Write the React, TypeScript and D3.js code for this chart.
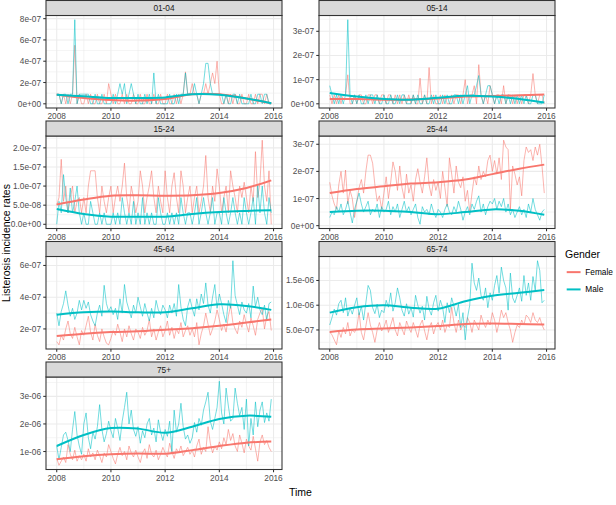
import React from "react";
import * as d3 from "d3";

// All rates are stored in units of 1e-7 (cases per person per month)
const UNIT = 1e-7;
const FIRST_YEAR = 2008;
const LAST_X = 2015 + 11 / 12;

const AGE_GROUPS = ["01-04", "05-14", "15-24", "25-44", "45-64", "65-74", "75+"];
const GENDERS = ["Female", "Male"];
const COLORS = ["#F8766D", "#00BFC4"];
const X_BREAKS = [2008, 2010, 2012, 2014, 2016];
const X_MINOR = [2007, 2009, 2011, 2013, 2015, 2017];
const SMOOTH_X = [2008, 2009, 2010, 2011, 2012, 2013, 2014, 2015, LAST_X];

// ---- 01-04 ----
const female_01_04 = [
  0.9, 0.9, 0, 0.9, 0, 0.9, 0, 0.9, 5.5, 0, 0.9, 0,
  0, 0.9, 0, 0.9, 0, 0, 0.9, 0, 0, 0.9, 0, 1.9,
  0.9, 0, 0.9, 0, 0, 0.9, 0, 0.9, 0, 0, 0.9, 0,
  0, 0.9, 0, 0, 0.9, 0, 0, 0.9, 0, 0, 0.9, 0,
  0, 0.9, 0, 0, 0.9, 0, 0.9, 0, 0.9, 3.0, 0.9, 0.9,
  1.9, 0.9, 0.9, 0, 0.9, 0.9, 1.9, 0.9, 1.9, 2.9, 1.9, 4.0,
  0.9, 0, 0, 0.9, 0, 0.9, 0, 0.9, 0, 0, 0.9, 0,
  0, 0.9, 0, 0, 0.9, 0, 0.9, 0.9, 0, 0.9, 0, 0,
];
const male_01_04 = [
  0.9, 0.9, 0, 0.9, 0.9, 0, 0.9, 0.9, 7.9, 0, 0.9, 0.9,
  0.9, 0.9, 0.9, 0, 0, 0.9, 0, 0, 0.9, 0, 0, 0,
  0, 0.9, 0, 0.9, 1.9, 0.9, 1.9, 0, 0.9, 1.9, 0.9, 0,
  0.9, 0, 0, 0.9, 0, 0.9, 0, 2.9, 0, 0.9, 0, 0,
  0, 0, 0.9, 0, 0, 0.9, 0, 0.9, 0.9, 2.9, 0.9, 0.9,
  0.9, 1.9, 0.9, 0, 0.9, 1.9, 3.8, 3.8, 1.9, 0.9, 0.9, 0.9,
  0.9, 0.9, 0, 0.9, 0, 0, 0.9, 0.9, 0, 0.9, 0, 0,
  0, 0, 0.9, 0, 0, 0.9, 0.9, 0, 0.9, 0.9, 0, 0,
];
const femaleSmooth_01_04 = [0.85, 0.55, 0.35, 0.3, 0.45, 0.9, 0.9, 0.5, 0.05];
const maleSmooth_01_04 = [0.85, 0.7, 0.55, 0.55, 0.6, 0.9, 0.85, 0.5, 0.05];
const yBreaks_01_04 = [0, 2, 4, 6, 8];
const yLabels_01_04 = ["0e+00", "2e-07", "4e-07", "6e-07", "8e-07"];

// ---- 05-14 ----
const female_05_14 = [
  0.37, 0, 0.37, 0, 0.37, 0, 0.37, 0.37, 1.2, 0, 0, 0.37,
  0, 0.37, 0.37, 0, 0, 0.37, 0.37, 0, 0.37, 0.37, 0, 0.37,
  0.37, 0, 0.37, 0.37, 0, 0.37, 0, 0.37, 0, 0.37, 0, 0.37,
  0, 0.37, 0, 0, 1.06, 0, 0.37, 0, 1.5, 0, 0.37, 0,
  0, 0.37, 0, 0.37, 0, 0, 0.37, 0, 0.37, 0.37, 0, 0.37,
  1.0, 0, 0.37, 0.37, 0.75, 0, 1.62, 0.37, 0, 0.37, 0, 0.75,
  0.37, 0, 0.37, 0.37, 0, 0.75, 0, 0.37, 0.37, 0, 0.37, 0,
  0.37, 0, 0.37, 0.37, 0, 0.37, 1.25, 0.37, 0, 0.37, 0.37, 0,
];
const male_05_14 = [
  0.75, 0.37, 0, 0.37, 0, 0.37, 0, 0.37, 3.48, 0.37, 0, 0.37,
  0, 0.37, 0, 0, 0.37, 0, 0.37, 0.37, 0, 0.37, 0, 0,
  0.37, 0, 0, 0.37, 0, 0, 0.37, 0, 0.37, 0.37, 0, 0,
  0, 0.37, 0, 0.37, 0, 0, 0.37, 0, 0, 0.37, 0, 0.37,
  0, 0, 0.37, 0, 0.37, 0, 0, 0.37, 0.37, 0, 0.37, 0,
  0.37, 0.75, 0, 0.37, 0.37, 0.75, 1.17, 0.37, 0, 0.37, 0.75, 0.75,
  0.37, 0, 0.37, 0, 0.37, 0.37, 0, 0.37, 0, 0.37, 0, 0.37,
  0, 0.37, 0, 0.37, 0, 0, 0.37, 0.37, 0, 0, 0, 0.37,
];
const femaleSmooth_05_14 = [0.2, 0.2, 0.17, 0.18, 0.22, 0.3, 0.32, 0.35, 0.38];
const maleSmooth_05_14 = [0.45, 0.3, 0.2, 0.17, 0.25, 0.33, 0.3, 0.2, 0.05];
const yBreaks_05_14 = [0, 1, 2, 3];
const yLabels_05_14 = ["0e+00", "1e-07", "2e-07", "3e-07"];

// ---- 15-24 ----
const female_15_24 = [
  0.5, 0.7, 1.7, 0.6, 1.0, 0.3, 0.7, 1.0, 0.3, 0.6, 0.7, 0.3,
  0.7, 0.3, 1.0, 1.4, 1.4, 1.4, 0.7, 0.3, 1.0, 0.6, 0.3, 0.7,
  1.0, 0.3, 0.7, 1.0, 0.6, 1.0, 1.6, 0.7, 0.3, 1.0, 0.7, 0.3,
  0.6, 1.4, 1.0, 0.3, 0.7, 1.0, 1.4, 0.7, 0.3, 1.0, 0.6, 0.3,
  1.4, 0.7, 0.3, 1.0, 1.35, 0.7, 0.3, 1.4, 1.0, 0.3, 0.7, 1.0,
  0.3, 0.7, 1.0, 0.3, 0.6, 1.0, 1.8, 0.7, 0.3, 1.0, 0.6, 1.45,
  1.0, 0.3, 0.7, 1.0, 0.3, 1.4, 1.0, 0.7, 0.3, 1.0, 0.7, 1.1,
  0.7, 0.3, 1.0, 0.6, 1.9, 0.7, 1.1, 2.2, 1.0, 0.6, 1.4, 0.0,
];
const male_15_24 = [
  0, 0.6, 0.3, 1.3, 0.7, 0.3, 0.95, 0.3, 0.6, 1.0, 0.3, 0,
  0.3, 0, 0, 0.6, 0.3, 0, 0, 0.3, 0, 0.3, 0, 0,
  0, 0.3, 0, 0.3, 0, 0.7, 0.3, 0, 0.3, 0, 0.6, 0,
  0.3, 0, 0.7, 0, 0.3, 0, 0.3, 0, 0, 0.7, 0.3, 0,
  0, 0.3, 0, 0.3, 0, 0.3, 0, 0.7, 0.3, 0, 0.3, 0.3,
  0, 0.3, 0.7, 0, 0.3, 0.7, 0.3, 0, 0.3, 0.7, 0, 0.3,
  0.3, 0, 0.7, 0.3, 0, 0.3, 0.7, 0.3, 0, 0.3, 0, 0.7,
  0.3, 0, 0.3, 0.7, 0, 1.05, 0.3, 1.0, 0.3, 0, 0.7, 0.3,
];
const femaleSmooth_15_24 = [0.52, 0.65, 0.75, 0.76, 0.75, 0.76, 0.82, 0.95, 1.15];
const maleSmooth_15_24 = [0.4, 0.27, 0.2, 0.2, 0.2, 0.27, 0.32, 0.35, 0.37];
const yBreaks_15_24 = [0, 0.5, 1, 1.5, 2];
const yLabels_15_24 = ["0.0e+00", "5.0e-08", "1.0e-07", "1.5e-07", "2.0e-07"];

// ---- 25-44 ----
const female_25_44 = [
  1.6, 1.1, 0.8, 0.6, 1.5, 2.0, 1.2, 2.05, 0.8, 1.3, 1.0, 0.3,
  0.9, 1.4, 1.7, 1.2, 2.0, 2.6, 2.6, 2.3, 1.5, 0.9, 1.1, 0.6,
  1.2, 1.8, 1.0, 1.6, 2.35, 2.0, 1.3, 2.2, 1.4, 1.0, 1.9, 1.2,
  1.5, 0.9, 1.7, 2.1, 1.6, 1.2, 1.8, 2.5, 1.5, 1.1, 1.7, 1.3,
  1.6, 1.0, 2.0, 1.4, 0.7, 2.5, 1.9, 1.2, 2.2, 1.6, 1.4, 1.8,
  0.9, 1.3, 0.5, 1.2, 1.8, 1.5, 2.2, 1.7, 2.0, 1.8, 2.4, 2.6,
  2.0, 2.4, 1.9, 2.5, 1.7, 3.15, 2.9, 2.8, 0.6, 2.2, 1.9, 1.5,
  1.8, 1.1, 2.4, 2.9, 2.7, 2.8, 2.4, 2.9, 2.6, 3.0, 2.2, 1.2,
];
const male_25_44 = [
  0.3, 0.5, 0.4, 0.7, 0.5, 0.8, 0.4, 0.6, 0.9, 0.5, 0.1, 0.6,
  0.9, 1.2, 0.8, 0.5, 0.7, 0.9, 0.4, 0.6, 0.5, 0.8, 0.3, 0.7,
  0.5, 0.6, 0.9, 0.4, 0.7, 0.5, 0.8, 0.3, 0.6, 0.9, 0.5, 0.7,
  0.4, 0.6, 0.8, 0.3, 0.05, 0.7, 0.5, 0.6, 0.4, 0.8, 0.5, 0.3,
  0.6, 0.5, 0.3, 0.6, 0.8, 0.5, 0.4, 0.7, 0.5, 0.9, 0.6, 0.2,
  0.5, 0.7, 0.4, 0.8, 0.6, 0.9, 1.1, 0.5, 0.8, 0.4, 0.7, 0.9,
  0.8, 1.0, 0.6, 0.9, 0.7, 1.0, 0.5, 0.8, 0.4, 0.6, 0.3, 0.5,
  0.7, 0.4, 0.6, 0.3, 0.8, 0.5, 1.0, 0.6, 0.4, 0.2, 0.5, 0.6,
];
const femaleSmooth_25_44 = [1.2, 1.35, 1.45, 1.55, 1.6, 1.7, 1.9, 2.1, 2.25];
const maleSmooth_25_44 = [0.5, 0.55, 0.55, 0.5, 0.42, 0.5, 0.6, 0.55, 0.4];
const yBreaks_25_44 = [0, 1, 2, 3];
const yLabels_25_44 = ["0e+00", "1e-07", "2e-07", "3e-07"];

// ---- 45-64 ----
const female_45_64 = [
  1.2, 1.0, 1.6, 1.3, 2.0, 2.5, 1.7, 1.4, 2.1, 1.5, 1.0, 1.9,
  1.6, 2.2, 2.8, 1.8, 1.3, 2.3, 1.6, 1.2, 2.0, 1.5, 1.1, 1.0,
  1.4, 1.9, 1.6, 2.3, 1.8, 1.2, 2.0, 1.5, 2.2, 1.7, 1.3, 2.0,
  1.8, 1.4, 2.1, 1.6, 1.9, 2.6, 1.5, 2.0, 1.3, 1.8, 2.2, 1.5,
  1.9, 2.5, 1.6, 2.1, 1.4, 2.0, 1.7, 2.4, 1.5, 1.9, 2.2, 1.6,
  2.0, 1.5, 2.4, 1.0, 1.7, 2.2, 3.0, 2.3, 1.6, 2.0, 2.5, 3.2,
  2.6, 1.9, 2.3, 1.8, 2.8, 3.5, 2.4, 2.0, 1.7, 2.5, 2.1, 2.9,
  2.3, 1.8, 2.7, 2.2, 1.6, 2.6, 3.0, 3.3, 2.0, 2.8, 3.1, 1.9,
];
const male_45_64 = [
  3.0, 2.2, 3.1, 3.6, 4.4, 3.5, 2.8, 3.3, 2.6, 3.0, 3.8, 3.2,
  3.8, 3.3, 3.7, 2.9, 2.5, 2.2, 3.0, 3.5, 2.8, 4.75, 3.6, 3.1,
  3.4, 2.9, 3.3, 2.6, 3.9, 3.0, 4.8, 3.7, 3.2, 2.7, 3.5, 3.0,
  4.0, 3.4, 2.8, 3.6, 3.0, 2.5, 3.3, 2.7, 3.8, 3.2, 2.9, 3.5,
  3.2, 2.7, 3.5, 3.0, 3.6, 2.8, 4.8, 3.4, 2.6, 2.2, 3.4, 3.9,
  3.3, 2.8, 3.9, 3.2, 4.2, 3.6, 4.9, 3.5, 3.0, 4.0, 4.8, 3.3,
  4.2, 3.6, 2.9, 2.4, 3.8, 3.3, 6.3, 4.1, 3.5, 2.9, 3.7, 3.2,
  3.0, 3.6, 2.7, 4.7, 3.4, 4.0, 3.2, 2.9, 3.5, 2.5, 3.6, 3.7,
];
const femaleSmooth_45_64 = [1.55, 1.7, 1.8, 1.85, 1.95, 2.05, 2.2, 2.4, 2.6];
const maleSmooth_45_64 = [2.9, 3.05, 3.1, 3.05, 3.05, 3.3, 3.55, 3.45, 3.2];
const yBreaks_45_64 = [2, 4, 6];
const yLabels_45_64 = ["2e-07", "4e-07", "6e-07"];

// ---- 65-74 ----
const female_65_74 = [
  4.6, 4.0, 3.0, 2.0, 4.8, 3.5, 5.5, 4.2, 6.5, 3.8, 5.0, 4.5,
  5.5, 8.5, 4.5, 3.0, 5.8, 8.5, 6.0, 4.5, 2.5, 5.0, 6.5, 4.8,
  5.5, 7.0, 4.5, 6.0, 7.5, 5.0, 3.8, 6.5, 5.2, 4.0, 6.8, 5.5,
  4.5, 6.5, 5.0, 3.5, 6.0, 7.0, 4.8, 3.0, 5.5, 6.5, 4.2, 5.8,
  6.5, 5.0, 7.0, 4.5, 6.0, 5.5, 9.6, 6.5, 4.5, 7.0, 5.0, 6.0,
  5.5, 7.5, 6.5, 4.5, 7.0, 6.0, 5.0, 8.0, 6.5, 5.5, 7.0, 6.0,
  8.5, 7.0, 4.5, 6.5, 9.0, 7.5, 8.5, 6.5, 5.0, 2.5, 4.5, 6.0,
  5.5, 7.0, 6.0, 8.0, 7.5, 6.5, 8.5, 7.0, 6.5, 7.5, 6.0, 5.0,
];
const male_65_74 = [
  6.0, 7.5, 9.2, 8.0, 10.3, 11.0, 8.5, 11.5, 7.8, 9.5, 8.2, 10.0,
  11.5, 8.0, 9.8, 7.0, 10.5, 14.0, 13.0, 9.5, 8.3, 10.2, 7.5, 9.0,
  8.5, 11.0, 9.6, 12.5, 8.8, 10.5, 13.5, 11.5, 9.0, 7.8, 10.3, 8.2,
  9.5, 7.6, 12.0, 10.0, 8.4, 9.8, 7.0, 11.8, 9.2, 8.0, 10.5, 12.0,
  8.8, 11.0, 9.5, 6.5, 10.5, 8.5, 11.5, 9.8, 7.8, 10.2, 5.5, 8.5,
  3.0, 7.5, 10.0, 18.5, 14.5, 13.0, 15.5, 12.0, 11.0, 13.5, 9.5, 12.5,
  11.0, 14.0, 16.0, 12.5, 17.7, 15.0, 13.5, 9.0, 16.5, 11.5, 10.5, 12.0,
  13.5, 10.8, 16.0, 12.0, 14.5, 11.0, 15.8, 13.0, 19.0, 17.0, 10.5, 11.0,
];
const femaleSmooth_65_74 = [4.6, 5.1, 5.3, 5.5, 5.8, 6.2, 6.3, 6.2, 6.1];
const maleSmooth_65_74 = [8.5, 9.6, 10.0, 9.5, 9.3, 10.8, 11.9, 12.5, 13.1];
const yBreaks_65_74 = [5, 10, 15];
const yLabels_65_74 = ["5.0e-07", "1.0e-06", "1.5e-06"];

// ---- 75+ ----
const female_75 = [
  7.5, 5.0, 6.5, 8.0, 6.0, 12.5, 9.0, 7.0, 10.5, 6.5, 8.5, 7.0,
  9.0, 6.5, 11.0, 8.0, 9.5, 7.0, 10.5, 8.5, 6.0, 9.5, 8.0, 12.5,
  10.0, 7.5, 5.5, 9.0, 11.5, 8.5, 10.0, 7.0, 12.0, 9.5, 8.0, 10.5,
  8.0, 6.0, 9.5, 11.0, 7.5, 12.5, 9.0, 8.0, 10.5, 7.0, 9.0, 11.5,
  9.5, 8.0, 13.0, 10.0, 7.5, 11.0, 9.5, 12.0, 8.5, 10.0, 11.5, 9.0,
  10.5, 8.0, 12.0, 14.5, 9.0, 11.5, 10.0, 19.0, 13.0, 9.5, 12.0, 10.5,
  13.5, 11.0, 15.0, 12.5, 18.0, 14.0, 16.5, 12.0, 10.0, 16.0, 13.0, 9.5,
  14.5, 12.0, 10.5, 15.5, 11.0, 6.5, 13.5, 16.0, 12.5, 14.0, 11.5, 10.0,
];
const male_75 = [
  12.0, 7.0, 11.5, 16.0, 17.0, 14.0, 10.0, 18.0, 24.5, 16.0, 12.0, 9.0,
  20.0, 24.0, 15.0, 11.0, 17.0, 14.5, 19.0, 27.0, 18.0, 13.5, 16.5, 21.0,
  17.5, 15.0, 22.0, 18.5, 14.0, 21.0, 26.0, 31.5, 20.0, 25.0, 18.0, 15.5,
  19.0, 13.0, 17.5, 15.0, 20.0, 22.0, 16.0, 18.5, 13.5, 21.5, 17.0, 14.0,
  18.0, 15.5, 21.0, 10.0, 25.0, 17.0, 20.0, 27.5, 19.0, 14.5, 16.0, 13.0,
  15.0, 20.5, 17.0, 22.0, 19.5, 25.0, 28.0, 31.5, 21.0, 18.0, 22.0, 26.0,
  35.5, 24.0, 20.0, 33.0, 26.5, 21.0, 22.0, 33.0, 27.5, 23.0, 26.0, 18.0,
  29.0, 12.0, 22.0, 16.0, 28.0, 19.0, 25.0, 28.0, 20.5, 24.0, 21.0, 29.0,
];
const femaleSmooth_75 = [7.2, 8.3, 9.0, 9.3, 9.2, 10.5, 12.0, 13.2, 13.6];
const maleSmooth_75 = [12.0, 16.0, 18.5, 18.3, 16.8, 19.0, 21.8, 23.0, 22.6];
const yBreaks_75 = [10, 20, 30];
const yLabels_75 = ["1e-06", "2e-06", "3e-06"];

const PANEL_DATA = [
  { female: female_01_04, male: male_01_04, fs: femaleSmooth_01_04, ms: maleSmooth_01_04, breaks: yBreaks_01_04, labels: yLabels_01_04 },
  { female: female_05_14, male: male_05_14, fs: femaleSmooth_05_14, ms: maleSmooth_05_14, breaks: yBreaks_05_14, labels: yLabels_05_14 },
  { female: female_15_24, male: male_15_24, fs: femaleSmooth_15_24, ms: maleSmooth_15_24, breaks: yBreaks_15_24, labels: yLabels_15_24 },
  { female: female_25_44, male: male_25_44, fs: femaleSmooth_25_44, ms: maleSmooth_25_44, breaks: yBreaks_25_44, labels: yLabels_25_44 },
  { female: female_45_64, male: male_45_64, fs: femaleSmooth_45_64, ms: maleSmooth_45_64, breaks: yBreaks_45_64, labels: yLabels_45_64 },
  { female: female_65_74, male: male_65_74, fs: femaleSmooth_65_74, ms: maleSmooth_65_74, breaks: yBreaks_65_74, labels: yLabels_65_74 },
  { female: female_75, male: male_75, fs: femaleSmooth_75, ms: maleSmooth_75, breaks: yBreaks_75, labels: yLabels_75 },
];

// ---- layout ----
const W = 616;
const H = 505;
const COL_LEFT = [46, 319];
const PANEL_W = 236;
const STRIP_TOP0 = 0.5;
const ROW_PITCH = 120.5;
const STRIP_H = 15;
const PANEL_H = 92.5;
const FONT = "'Liberation Sans', Arial, Helvetica, sans-serif";
const SMALL = 8.3;
const GRID = "#EBEBEB";
const DARK = "#333333";

function Panel({ idx }: { idx: number }) {
  const p = PANEL_DATA[idx];
  const col = idx % 2;
  const row = Math.floor(idx / 2);
  const left = COL_LEFT[col];
  const right = left + PANEL_W;
  const stripTop = STRIP_TOP0 + row * ROW_PITCH;
  const top = stripTop + STRIP_H;
  const bottom = top + PANEL_H;

  const xSpan = LAST_X - FIRST_YEAR;
  const x = d3
    .scaleLinear()
    .domain([FIRST_YEAR - 0.05 * xSpan, LAST_X + 0.05 * xSpan])
    .range([left, right]);
  const all = [...p.female, ...p.male];
  const lo = d3.min(all) as number;
  const hi = d3.max(all) as number;
  const ySpan = hi - lo;
  const y = d3
    .scaleLinear()
    .domain([lo - 0.05 * ySpan, hi + 0.05 * ySpan])
    .range([bottom, top]);
  const [d0, d1] = y.domain();
  const step = p.breaks[1] - p.breaks[0];
  const yMinor = [p.breaks[0] - step / 2, ...p.breaks.map((b) => b + step / 2)].filter(
    (v) => v >= d0 && v <= d1
  );
  const [x0, x1] = x.domain();
  const xMinor = X_MINOR.filter((v) => v >= x0 && v <= x1);
  const xMajor = X_BREAKS.filter((v) => v >= x0 && v <= x1);

  const raw = d3
    .line<number>()
    .x((_, i) => x(FIRST_YEAR + i / 12))
    .y((d) => y(d));
  const smooth = d3
    .line<number>()
    .x((_, i) => x(SMOOTH_X[i]))
    .y((d) => y(d))
    .curve(d3.curveCatmullRom.alpha(0.5));
  const clipId = `clip-${idx}`;

  return (
    <g>
      <defs>
        <clipPath id={clipId}>
          <rect x={left} y={top} width={PANEL_W} height={PANEL_H} />
        </clipPath>
      </defs>
      <rect x={left} y={top} width={PANEL_W} height={PANEL_H} fill="#FFFFFF" />
      {yMinor.map((v) => (
        <line key={"ym" + v} x1={left} x2={right} y1={y(v)} y2={y(v)} stroke={GRID} strokeWidth={0.53} />
      ))}
      {xMinor.map((v) => (
        <line key={"xm" + v} x1={x(v)} x2={x(v)} y1={top} y2={bottom} stroke={GRID} strokeWidth={0.53} />
      ))}
      {p.breaks.map((v) => (
        <line key={"yM" + v} x1={left} x2={right} y1={y(v)} y2={y(v)} stroke={GRID} strokeWidth={1.07} />
      ))}
      {xMajor.map((v) => (
        <line key={"xM" + v} x1={x(v)} x2={x(v)} y1={top} y2={bottom} stroke={GRID} strokeWidth={1.07} />
      ))}
      <g clipPath={`url(#${clipId})`}>
        <path d={raw(p.female) || ""} fill="none" stroke={COLORS[0]} strokeWidth={0.85} strokeOpacity={0.65} />
        <path d={raw(p.male) || ""} fill="none" stroke={COLORS[1]} strokeWidth={0.85} strokeOpacity={0.65} />
        <path d={smooth(p.fs) || ""} fill="none" stroke={COLORS[0]} strokeWidth={2} />
        <path d={smooth(p.ms) || ""} fill="none" stroke={COLORS[1]} strokeWidth={2} />
      </g>
      <rect x={left} y={top} width={PANEL_W} height={PANEL_H} fill="none" stroke={DARK} strokeWidth={1.07} />
      <rect x={left} y={stripTop} width={PANEL_W} height={STRIP_H} fill="#D9D9D9" stroke={DARK} strokeWidth={1.07} />
      <text
        x={(left + right) / 2}
        y={stripTop + STRIP_H / 2}
        textAnchor="middle"
        dominantBaseline="central"
        fontSize={SMALL}
        fill="#1A1A1A"
        fontFamily={FONT}
      >
        {AGE_GROUPS[idx]}
      </text>
      {p.breaks.map((v, i) => (
        <g key={"yt" + v}>
          <line x1={left - 2.75} x2={left} y1={y(v)} y2={y(v)} stroke={DARK} strokeWidth={1.07} />
          <text
            x={left - 4.9}
            y={y(v)}
            textAnchor="end"
            dominantBaseline="central"
            fontSize={SMALL}
            fill="#4D4D4D"
            fontFamily={FONT}
          >
            {p.labels[i]}
          </text>
        </g>
      ))}
      {xMajor.map((v) => (
        <g key={"xt" + v}>
          <line x1={x(v)} x2={x(v)} y1={bottom} y2={bottom + 2.75} stroke={DARK} strokeWidth={1.07} />
          <text x={x(v)} y={bottom + 11.3} textAnchor="middle" fontSize={SMALL} fill="#4D4D4D" fontFamily={FONT}>
            {v}
          </text>
        </g>
      ))}
    </g>
  );
}

export default function App() {
  const legendX = 565;
  const keySize = 17.28;
  const keyTop = 263.5;
  return (
    <svg
      width={W}
      height={H}
      style={{ position: "absolute", left: 0, top: 0, background: "#FFFFFF" }}
      xmlns="http://www.w3.org/2000/svg"
    >
      <rect x={0} y={0} width={W} height={H} fill="#FFFFFF" />
      {AGE_GROUPS.map((_, i) => (
        <Panel key={i} idx={i} />
      ))}
      <text
        transform={`translate(9.5,243) rotate(-90)`}
        textAnchor="middle"
        fontSize={10.5}
        fill="#000000"
        fontFamily={FONT}
      >
        Listerosis incidence rates
      </text>
      <text x={(COL_LEFT[0] + COL_LEFT[1] + PANEL_W) / 2} y={496} textAnchor="middle" fontSize={10.5} fill="#000000" fontFamily={FONT}>
        Time
      </text>
      <text x={legendX} y={258} fontSize={10.5} fill="#000000" fontFamily={FONT}>
        Gender
      </text>
      {GENDERS.map((g, i) => {
        const cy = keyTop + keySize * i + keySize / 2;
        return (
          <g key={g}>
            <line x1={legendX + 1.7} x2={legendX + keySize - 1.7} y1={cy} y2={cy} stroke={COLORS[i]} strokeWidth={2} />
            <text x={legendX + keySize + 3} y={cy} dominantBaseline="central" fontSize={SMALL} fill="#000000" fontFamily={FONT}>
              {g}
            </text>
          </g>
        );
      })}
    </svg>
  );
}
